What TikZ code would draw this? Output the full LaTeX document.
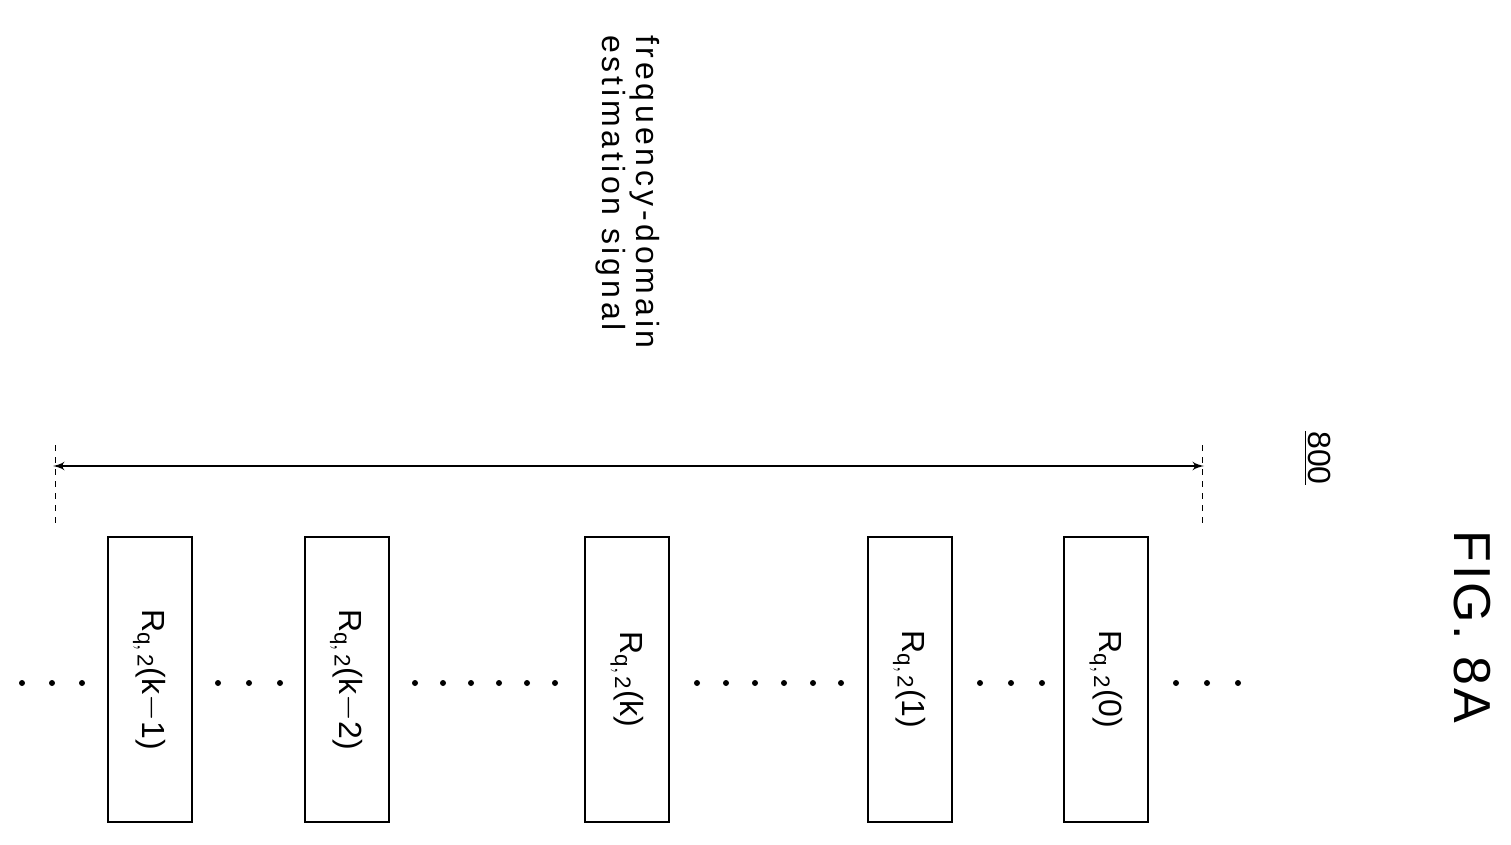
\documentclass[tikz,border=0pt]{standalone}
\usepackage{fontspec}
\setmainfont{Liberation Sans}
\usetikzlibrary{arrows}
\tikzstyle{slot} = [rectangle, draw, line width=1pt, minimum width=42pt, minimum height=142.5pt, inner sep=0pt]
\tikzstyle{lbl} = [rotate=-90, font=\fontsize{16}{17}\selectfont]
\tikzstyle{dot} = [circle, fill, inner sep=0pt, minimum size=3pt]
\tikzstyle{line} = [draw, -latex', line width=1pt]
\begin{document}
\begin{tikzpicture}[x=0.5pt,y=-0.5pt]
\useasboundingbox (0,0) rectangle (1511,845);
% Place nodes
	\node [slot] (km1) at (149.5,679.5) {};
	\node [slot] (km2) at (346.5,679.5) {};
	\node [slot] (kk)  at (627,679.5) {};
	\node [slot] (k1)  at (909.5,679.5) {};
	\node [slot] (k0)  at (1106,679.5) {};
	\foreach \n/\t in {km1/k$-$1, km2/k$-$2, kk/k, k1/1, k0/0}
		\node [lbl] at (\n) {R$_{\mathrm{q,\,2}}$(\t)};
	\foreach \x in {22,52,82, 218,249,280, 415,443,471,499,527,555, 697,726,755,784,813,841, 980,1011,1042, 1176,1207,1238}
		\node [dot] at (\x,683) {};
	\node [lbl, align=left, anchor=north west, font=\fontsize{16}{17}\selectfont\addfontfeature{LetterSpace=12}] (sig) at (667,28) {frequency-domain\\estimation signal};
	\node [lbl] (ref) at (1318,458) {\underline{800}};
	\node [rotate=-90, font=\fontsize{26}{28}\selectfont\addfontfeature{LetterSpace=5}] (fig) at (1472,627) {FIG. 8A};

% Draw edges
	\coordinate (lt) at (55,445);  \coordinate (lb) at (55,527);
	\coordinate (rt) at (1202,445); \coordinate (rb) at (1202,527);
	\coordinate (mid) at (628,466);
	\draw [dashed] (lt) -- (lb);
	\draw [dashed] (rt) -- (rb);
	\path [line, shorten >=-1pt] (mid) -- (55,466);
	\path [line, shorten >=-1pt] (mid) -- (1202,466);
\end{tikzpicture}
\end{document}
